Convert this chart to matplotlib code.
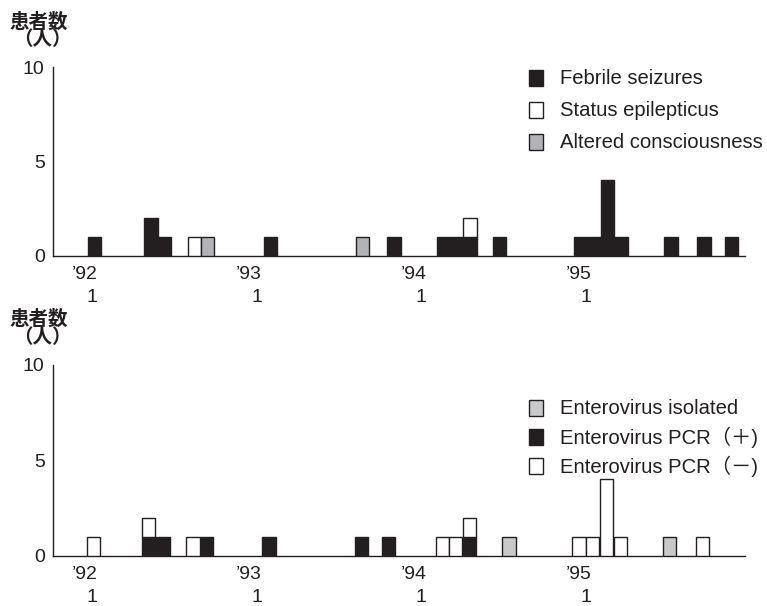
import matplotlib
matplotlib.use("Agg")
import matplotlib.pyplot as plt
from matplotlib.patches import Rectangle
from matplotlib.transforms import offset_copy

plt.rcParams['font.family'] = ['Liberation Sans', 'Noto Sans CJK JP']

W, H = 767, 606
INK = '#231f20'
WHITE = '#ffffff'
GREY_TOP = '#b1b3b6'
GREY_BOT = '#c8c9cb'

# x positions are months counted from January 1992
year_ticks = [0, 12, 24, 36]
year_labels = ['’92', '’93', '’94', '’95']
month_labels = ['1', '1', '1', '1']
y_ticks = [0, 5, 10]

# upper panel: clinical presentation
febrile_month = [0.2, 4.3, 5.3, 13.0, 22.0, 25.6, 26.58, 27.55, 29.7,
                 35.6, 36.6, 37.6, 38.6, 42.2, 44.6, 46.6]
febrile_count = [1, 2, 1, 1, 1, 1, 1, 1, 1, 1, 1, 4, 1, 1, 1, 1]
status_month = [7.48, 27.55]
status_count = [1, 1]
altered_month = [8.4, 19.7]
altered_count = [1, 1]

# lower panel: enterovirus findings
pcr_pos_month = [4.13, 5.17, 8.33, 12.9, 19.65, 21.6, 27.5]
pcr_pos_count = [1, 1, 1, 1, 1, 1, 1]
pcr_neg_month = [0.1, 4.13, 7.36, 25.55, 26.5, 27.5, 35.5, 36.5, 37.5, 38.5, 44.5]
pcr_neg_count = [1, 1, 1, 1, 1, 1, 1, 1, 4, 1, 1]
isolated_month = [30.4, 42.1]
isolated_count = [1, 1]

top_legend = ['Febrile seizures', 'Status epilepticus', 'Altered consciousness']
bot_legend = ['Enterovirus isolated', 'Enterovirus PCR（＋)', 'Enterovirus PCR（－)']


def fx(px):
    return px / W


def fy(py):
    return 1 - py / H


def draw_panel(ax, series):
    # series are stacked in the order given
    level = {}
    for months, counts, color in series:
        base = [level.get(m, 0) for m in months]
        ax.bar(months, counts, width=0.97, bottom=base, color=color,
               edgecolor=INK, linewidth=1.0, zorder=3)
        for m, c in zip(months, counts):
            level[m] = level.get(m, 0) + c

    ax.set_xlim(-2.85, 47.6)
    ax.set_ylim(0, 10)
    for s in ['top', 'right']:
        ax.spines[s].set_visible(False)
    for s in ['left', 'bottom']:
        ax.spines[s].set_color(INK)
        ax.spines[s].set_linewidth(1.0)
    ax.set_xticks([])
    ax.set_yticks(y_ticks)
    ax.tick_params(axis='y', length=0, pad=6, labelsize=14, labelcolor=INK)

    t_year = offset_copy(ax.get_xaxis_transform(), fig=fig, y=-13.3, units='points')
    t_month = offset_copy(ax.get_xaxis_transform(), fig=fig, y=-29.8, units='points')
    for t, yl, ml in zip(year_ticks, year_labels, month_labels):
        ax.text(t - 0.55, 0, yl, transform=t_year, ha='center', va='center',
                fontsize=14, color=INK)
        ax.text(t, 0, ml, transform=t_month, ha='center', va='center',
                fontsize=14, color=INK)


def draw_key(labels, colors, y0, step):
    for i, (lab, col) in enumerate(zip(labels, colors)):
        y = y0 + i * step
        fig.add_artist(Rectangle((fx(529), fy(y + 8)), 14 / W, 16 / H,
                                 transform=fig.transFigure, facecolor=col,
                                 edgecolor=INK, linewidth=1.0))
        fig.text(fx(560), fy(y), lab, ha='left', va='center', fontsize=14.6, color=INK)


def draw_ylabel(y_top):
    fig.text(fx(39), fy(y_top - 45), '患者数', ha='center', va='center',
             fontsize=14, fontweight='bold', color=INK)
    fig.text(fx(42), fy(y_top - 27), '（人）', ha='center', va='center',
             fontsize=14, fontweight='bold', color=INK)


fig = plt.figure(figsize=(W / 100, H / 100), dpi=100)
ax1 = fig.add_axes([fx(53), fy(256), (745 - 53) / W, (256 - 67) / H])
ax2 = fig.add_axes([fx(53), fy(556), (745 - 53) / W, (556 - 364.5) / H])

draw_panel(ax1, [(febrile_month, febrile_count, INK),
                 (status_month, status_count, WHITE),
                 (altered_month, altered_count, GREY_TOP)])
draw_panel(ax2, [(pcr_pos_month, pcr_pos_count, INK),
                 (pcr_neg_month, pcr_neg_count, WHITE),
                 (isolated_month, isolated_count, GREY_BOT)])

draw_key(top_legend, [INK, WHITE, GREY_TOP], 78, 32)
draw_key(bot_legend, [GREY_BOT, INK, WHITE], 408, 29)
draw_ylabel(67)
draw_ylabel(364.5)

fig.savefig('out.png', dpi=100)
